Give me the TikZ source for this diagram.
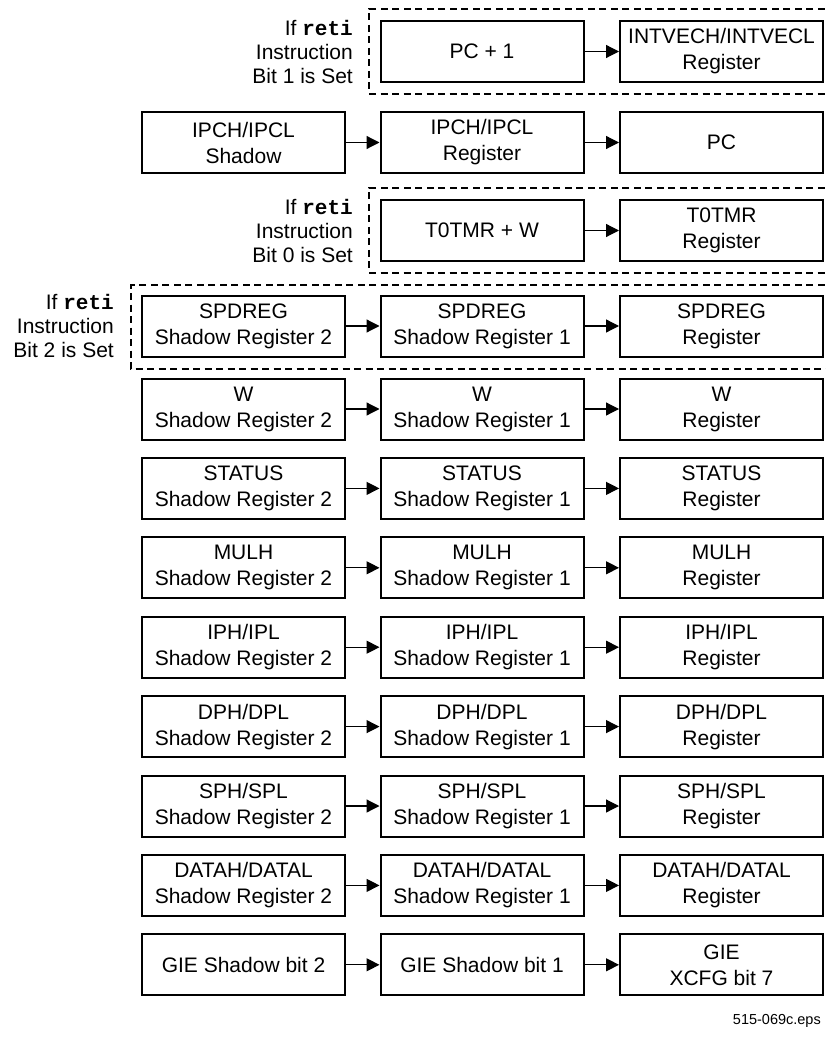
\documentclass[tikz,border=0pt]{standalone}
\usepackage{fontspec}
\setmainfont{Liberation Sans}
\newfontfamily\codefont{Liberation Mono}
\usetikzlibrary{arrows.meta}
\tikzset{
  reg/.style={draw, line width=2pt, minimum width=203pt, minimum height=61pt,
    inner sep=0pt, align=center, font=\fontsize{21}{26}\selectfont},
  flow/.style={line width=1.2pt, -{Triangle[length=13pt,width=13pt]}},
  cond/.style={draw, line width=2pt, dash pattern=on 7pt off 4.5pt},
  lbl/.style={anchor=east, align=right, inner sep=0pt, font=\fontsize{21}{24}\selectfont},
  foot/.style={anchor=east, inner sep=0pt, font=\fontsize{14.5}{17}\selectfont}
}
\newcommand{\reti}{\textbf{\codefont reti}}
\begin{document}
\begin{tikzpicture}[x=1pt,y=-1pt]
\useasboundingbox (0,0) rectangle (825,1040);
% dashed condition frames
\draw[cond] (836,9) -- (369,9) -- (369,94) -- (836,94);
\draw[cond] (836,188) -- (369,188) -- (369,273) -- (836,273);
\draw[cond] (836,285) -- (131,285) -- (131,369) -- (836,369);
\node[lbl] (l1) at (353,51.5) {If \reti\\Instruction\\Bit 1 is Set};
\node[lbl] (l3) at (353,230.5) {If \reti\\Instruction\\Bit 0 is Set};
\node[lbl] (l4) at (114,326) {If \reti\\Instruction\\Bit 2 is Set};
% row 1
\node[reg] (a2) at (482,51.5) {PC + 1};
\node[reg] (a3) at (721.5,51.5) {INTVECH/INTVECL\\Register};
% row 2
\node[reg] (b1) at (243.5,142.5) {IPCH/IPCL\\Shadow};
\node[reg] (b2) at (482,142.5) {IPCH/IPCL\\Register};
\node[reg] (b3) at (721.5,142.5) {PC};
% row 3
\node[reg] (c2) at (482,230.5) {T0TMR + W};
\node[reg] (c3) at (721.5,230.5) {T0TMR\\Register};
% row 4
\node[reg] (d1) at (243.5,326) {SPDREG\\Shadow Register 2};
\node[reg] (d2) at (482,326) {SPDREG\\Shadow Register 1};
\node[reg] (d3) at (721.5,326) {SPDREG\\Register};
% rows 5..11
\foreach \n/\t [count=\i from 0] in {e/{W},f/{STATUS},g/{MULH},h/{IPH/IPL},i/{DPH/DPL},j/{SPH/SPL},k/{DATAH/DATAL}}{
  \pgfmathsetmacro{\yy}{409+79.4*\i}
  \node[reg] (\n1) at (243.5,\yy) {\t\\Shadow Register 2};
  \node[reg] (\n2) at (482,\yy) {\t\\Shadow Register 1};
  \node[reg] (\n3) at (721.5,\yy) {\t\\Register};
  \draw[flow] (\n1) -- (\n2);
  \draw[flow] (\n2) -- (\n3);
}
% row 12
\node[reg] (m1) at (243.5,964.8) {GIE Shadow bit 2};
\node[reg] (m2) at (482,964.8) {GIE Shadow bit 1};
\node[reg] (m3) at (721.5,964.8) {GIE\\XCFG bit 7};
% arrows
\draw[flow] (a2) -- (a3);
\draw[flow] (b1) -- (b2);
\draw[flow] (b2) -- (b3);
\draw[flow] (c2) -- (c3);
\draw[flow] (d1) -- (d2);
\draw[flow] (d2) -- (d3);
\draw[flow] (m1) -- (m2);
\draw[flow] (m2) -- (m3);
\node[foot] (ft) at (821,1021) {515-069c.eps};
\end{tikzpicture}
\end{document}
